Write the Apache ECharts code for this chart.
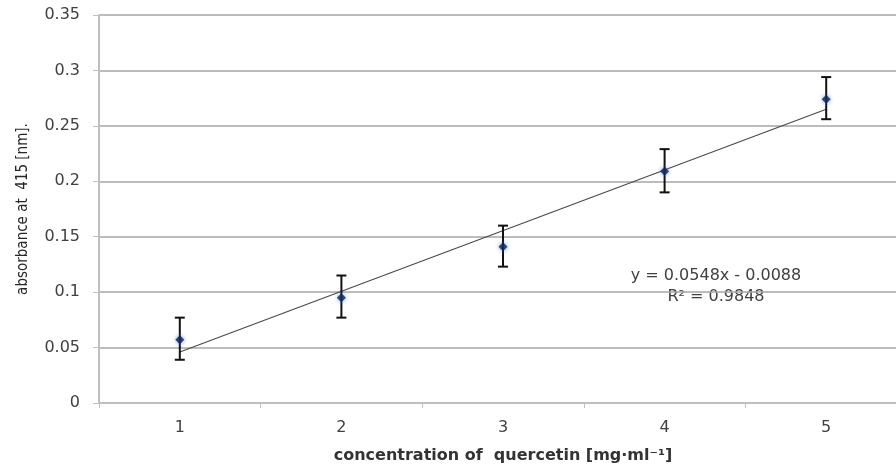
<!DOCTYPE html>
<html>
<head>
    <meta charset="utf-8">
    <title>quercetin calibration</title>
    <script src="https://cdn.jsdelivr.net/npm/echarts@6/dist/echarts.min.js"></script>
    <style>
        html, body { margin: 0; padding: 0; background: #fff; }
    </style>
</head>
<body>
<div id="main" style="width: 896px;height:469px;"></div>
<script type="text/javascript">
    // data
    var concentrations = ['1', '2', '3', '4', '5'];
    var absorbance = [0.057, 0.095, 0.141, 0.209, 0.274];
    var errLow = [0.039, 0.077, 0.123, 0.190, 0.256];
    var errHigh = [0.077, 0.115, 0.160, 0.229, 0.294];
    var trendEnds = [0.046, 0.265]; // fitted line at x=1 and x=5
    var yTicks = [0, 0.05, 0.1, 0.15, 0.2, 0.25, 0.3, 0.35];

    var errData = [];
    for (var i = 0; i < concentrations.length; i++) {
        errData.push([i, errLow[i], errHigh[i]]);
    }

    var option = {
        backgroundColor: '#ffffff',
        animation: false,
        // plot runs a little past the right edge of the picture
        grid: { left: 99, right: -11, top: 15, bottom: 66, outerBoundsMode: 'none', containLabel: false },
        xAxis: {
            type: 'category',
            data: concentrations,
            boundaryGap: true,
            name: 'concentration of  quercetin [mg\u00b7ml\u207b\u00b9]',
            nameLocation: 'middle',
            nameGap: 45,
            nameTextStyle: { color: '#333333', fontSize: 16, fontWeight: 'bold', fontFamily: 'DejaVu Sans' },
            axisLine: { lineStyle: { color: '#bfbfbf', width: 2 } },
            axisTick: { show: true, length: 5, lineStyle: { color: '#bfbfbf' } },
            axisLabel: { color: '#404040', fontSize: 16, fontFamily: 'DejaVu Sans', margin: 17 },
            splitLine: { show: false }
        },
        yAxis: {
            type: 'value',
            min: 0,
            max: 0.35,
            interval: 0.05,
            name: 'absorbance at  415 [nm].',
            nameLocation: 'middle',
            nameGap: 68,
            nameTextStyle: { color: '#262626', fontSize: 15, fontFamily: 'DejaVu Sans Condensed' },
            axisLine: { show: true, lineStyle: { color: '#bfbfbf', width: 2 } },
            axisTick: { show: true, length: 6, lineStyle: { color: '#bfbfbf' } },
            axisLabel: {
                color: '#404040', fontSize: 16, fontFamily: 'DejaVu Sans', margin: 19,
                formatter: function (v) {
                    for (var k = 0; k < yTicks.length; k++) {
                        if (Math.abs(yTicks[k] - v) < 1e-9) return String(yTicks[k]);
                    }
                    return '';
                }
            },
            splitLine: { show: true, lineStyle: { color: '#a6a6a6', width: 1.5 } }
        },
        series: [
            {
                name: 'trend',
                type: 'line',
                data: [[0, trendEnds[0]], [4, trendEnds[1]]],
                symbol: 'none',
                lineStyle: { color: '#4a4a4a', width: 1.2 },
                z: 2
            },
            {
                name: 'error',
                type: 'custom',
                data: errData,
                z: 3,
                renderItem: function (params, api) {
                    var idx = api.value(0);
                    var lo = api.coord([idx, api.value(1)]);
                    var hi = api.coord([idx, api.value(2)]);
                    var hw = 5;
                    var style = { stroke: '#111111', lineWidth: 2 };
                    return {
                        type: 'group',
                        children: [
                            { type: 'line', shape: { x1: lo[0], y1: lo[1], x2: hi[0], y2: hi[1] }, style: style },
                            { type: 'line', shape: { x1: lo[0] - hw, y1: lo[1], x2: lo[0] + hw, y2: lo[1] }, style: style },
                            { type: 'line', shape: { x1: hi[0] - hw, y1: hi[1], x2: hi[0] + hw, y2: hi[1] }, style: style }
                        ]
                    };
                }
            },
            {
                name: 'absorbance',
                type: 'scatter',
                data: absorbance,
                symbol: 'diamond',
                symbolSize: 9,
                itemStyle: {
                    color: '#0b2350',
                    shadowBlur: 4,
                    shadowColor: 'rgba(60,120,220,0.9)'
                },
                z: 4
            }
        ],
        graphic: [
            {
                type: 'text',
                x: 716,
                y: 276,
                style: { text: 'y = 0.0548x - 0.0088', fill: '#404040', font: '16px "DejaVu Sans"', align: 'center', verticalAlign: 'middle' }
            },
            {
                type: 'text',
                x: 716,
                y: 297,
                style: { text: 'R\u00b2 = 0.9848', fill: '#404040', font: '16px "DejaVu Sans"', align: 'center', verticalAlign: 'middle' }
            }
        ]
    };

    var myChart = echarts.init(document.getElementById('main'));
    myChart.setOption(option);
</script>
</body>
</html>
